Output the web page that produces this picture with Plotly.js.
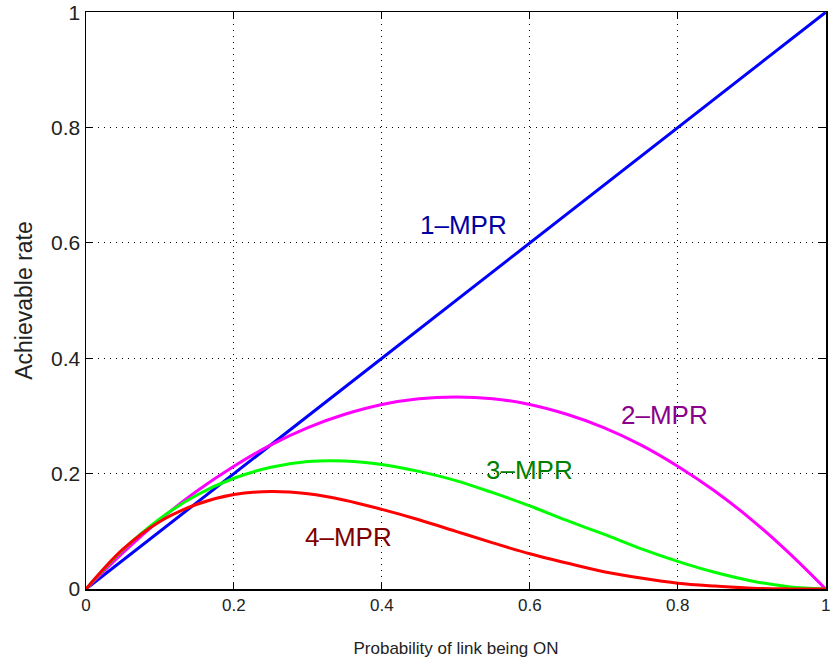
<!DOCTYPE html>
<html>
<head>
<meta charset="utf-8">
<script src="https://cdn.plot.ly/plotly-3.0.1.min.js"></script>
<style>html,body{margin:0;padding:0;background:#fff;}#chart{width:831px;height:668px;}</style>
</head>
<body>
<div id="chart"></div>
<script>
var probOn = [0,0.05,0.1,0.15,0.2,0.25,0.3,0.35,0.4,0.45,0.5,0.55,0.6,0.65,0.7,0.75,0.8,0.85,0.9,0.95,1];
var rate1 = [0,0.05,0.1,0.15,0.2,0.25,0.3,0.35,0.4,0.45,0.5,0.55,0.6,0.65,0.7,0.75,0.8,0.85,0.9,0.95,1];
var rate2 = [0,0.063,0.12,0.17,0.213,0.25,0.28,0.303,0.32,0.33,0.333,0.33,0.32,0.303,0.28,0.25,0.213,0.17,0.12,0.063,0];
var rate3 = [0,0.068,0.122,0.163,0.192,0.211,0.221,0.222,0.216,0.204,0.188,0.167,0.144,0.119,0.095,0.070,0.048,0.029,0.014,0.004,0];
var rate4 = [0,0.069,0.117,0.147,0.164,0.169,0.165,0.154,0.138,0.120,0.100,0.080,0.061,0.045,0.030,0.019,0.010,0.005,0.0014,0.0002,0];
var seriesNames = ['1\u2013MPR','2\u2013MPR','3\u2013MPR','4\u2013MPR'];
var lineColors = ['#0000ff','#ff00ff','#00ff00','#ff0000'];
var labelColors = ['#0000a0','#8b008b','#008000','#800000'];
var labelX = [0.511,0.782,0.599,0.355];
var labelY = [0.631,0.302,0.206,0.09];
var xTicks = [0,0.2,0.4,0.6,0.8,1];
var yTicks = [0,0.2,0.4,0.6,0.8,1];

var series = [rate1, rate2, rate3, rate4];
var traces = series.map(function(s, i){
  return {x: probOn, y: s, type:'scatter', mode:'lines', name: seriesNames[i], cliponaxis:false,
    line:{color: lineColors[i], width:3, shape: i===0 ? 'linear' : 'spline', smoothing:1}};
});
var annotations = seriesNames.map(function(n, i){
  return {x: labelX[i], y: labelY[i], xref:'x', yref:'y', text: n, showarrow:false,
    font:{family:'Liberation Sans, Arial, sans-serif', size:26, color: labelColors[i]}};
});
var fontFam = 'Liberation Sans, Arial, sans-serif';
var layout = {
  width:831, height:668,
  margin:{l:86, r:5, t:12, b:79},
  paper_bgcolor:'#fff', plot_bgcolor:'#fff',
  showlegend:false,
  xaxis:{range:[0,1.0005], tickvals:xTicks, ticktext:xTicks.map(String), ticks:'inside', ticklen:7, tickcolor:'#000',
    showline:true, linecolor:'#000', linewidth:1.5, mirror:'ticks', zeroline:false, ticklabeloverflow:'allow',
    showgrid:true, gridcolor:'#000', griddash:'1px,5px', gridwidth:1,
    tickfont:{family:fontFam, size:17, color:'#222'},
    title:{text:'Probability of link being ON', standoff:28, font:{family:fontFam, size:17, color:'#222'}}},
  yaxis:{range:[0,1.0005], tickvals:yTicks, ticktext:yTicks.map(String), ticks:'inside', ticklen:7, tickcolor:'#000',
    showline:true, linecolor:'#000', linewidth:1.5, mirror:'ticks', zeroline:false, ticklabeloverflow:'allow',
    showgrid:true, gridcolor:'#000', griddash:'1px,5px', gridwidth:1,
    tickfont:{family:fontFam, size:21, color:'#222'},
    title:{text:'Achievable rate', standoff:12, font:{family:fontFam, size:23, color:'#222'}}},
  annotations: annotations
};
Plotly.newPlot('chart', traces, layout, {displayModeBar:false, staticPlot:true});
</script>
</body>
</html>
